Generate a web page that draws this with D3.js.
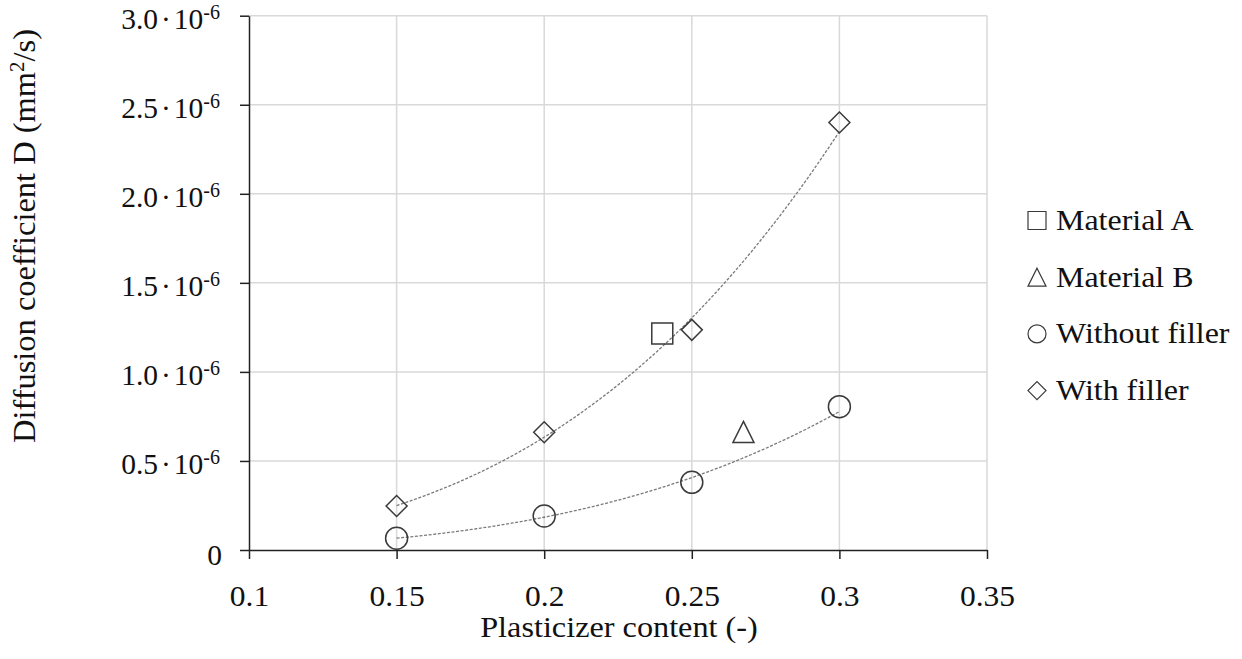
<!DOCTYPE html>
<html>
<head>
<meta charset="utf-8">
<script src="https://cdn.jsdelivr.net/npm/d3@7"></script>
<style>
  html, body { margin: 0; padding: 0; background: #fff; }
  svg { display: block; }
  svg text, svg tspan { font-family: "Liberation Serif" !important; }
</style>
</head>
<body>
<svg id="plot" width="1242" height="659"></svg>
<script>
// ---- data ----
const withFillerX = [0.15, 0.20, 0.25, 0.30];
const withFillerY = [0.247e-6, 0.661e-6, 1.236e-6, 2.40e-6];
const withoutFillerX = [0.15, 0.20, 0.25, 0.30];
const withoutFillerY = [0.066e-6, 0.191e-6, 0.380e-6, 0.805e-6];
const materialAX = [0.240];
const materialAY = [1.215e-6];
const materialBX = [0.2675];
const materialBY = [0.663e-6];
const xTicks = [0.1, 0.15, 0.2, 0.25, 0.3, 0.35];
const xTickLabels = ["0.1", "0.15", "0.2", "0.25", "0.3", "0.35"];
const yTicks = [0, 0.5e-6, 1.0e-6, 1.5e-6, 2.0e-6, 2.5e-6, 3.0e-6];
const yTickMantissa = ["0", "0.5", "1.0", "1.5", "2.0", "2.5", "3.0"];
const legendLabels = ["Material A", "Material B", "Without filler", "With filler"];
const legendShapes = ["square", "triangle", "circle", "diamond"];

// ---- layout ----
const FONT = '"Liberation Serif"';
const svg = d3.select("#plot");
const x = d3.scaleLinear().domain([0.1, 0.35]).range([249, 987]);
const y = d3.scaleLinear().domain([0, 3e-6]).range([550, 15.7]);
const markStroke = "#3a3a3a";
const textColor = "#111";
function styleText(sel, size) {
  return sel.attr("font-family", FONT).style("font-family", FONT, "important")
    .attr("font-size", size).attr("fill", textColor);
}
// widen text horizontally (reference glyphs are slightly wider than Liberation Serif)
function widen(sel, k) {
  sel.each(function() {
    const n = this.getComputedTextLength();
    d3.select(this).attr("textLength", n * k).attr("lengthAdjust", "spacingAndGlyphs");
  });
  return sel;
}

// gridlines
svg.append("g").selectAll("line.h").data(yTicks.filter(d => d > 0)).join("line")
  .attr("x1", x(0.1)).attr("x2", x(0.35))
  .attr("y1", d => y(d)).attr("y2", d => y(d))
  .attr("stroke", "#d9d9d9").attr("stroke-width", 1.5);
svg.append("g").selectAll("line.v").data(xTicks.filter(d => d > 0.1)).join("line")
  .attr("x1", d => x(d)).attr("x2", d => x(d))
  .attr("y1", y(0)).attr("y2", y(3e-6))
  .attr("stroke", "#d9d9d9").attr("stroke-width", 1.5);

// axes
const xAxis = svg.append("g").attr("transform", `translate(0,${y(0)})`)
  .call(d3.axisBottom(x).tickValues(xTicks).tickSize(9).tickSizeOuter(0).tickFormat(""));
const yAxis = svg.append("g").attr("transform", `translate(${x(0.1)},0)`)
  .call(d3.axisLeft(y).tickValues(yTicks).tickSize(9).tickSizeOuter(0).tickFormat(""));
[xAxis, yAxis].forEach(a => {
  a.attr("font-family", FONT);
  a.select(".domain").attr("stroke", "#222").attr("stroke-width", 1.5);
  a.selectAll(".tick line").attr("stroke", "#222").attr("stroke-width", 1.5);
});

// x tick labels
const xl = styleText(xAxis.selectAll(".tick").append("text"), 30)
  .attr("y", 56).attr("text-anchor", "middle")
  .text((d, i) => xTickLabels[i]);
widen(xl, 1.05);

// y tick labels
yAxis.selectAll(".tick").each(function(d, i) {
  const t = styleText(d3.select(this).append("text"), 29.5)
    .attr("x", -29).attr("y", 13).attr("text-anchor", "end");
  if (d === 0) {
    t.attr("x", -27).attr("y", 14).text(yTickMantissa[i]);
  } else {
    t.append("tspan").text(yTickMantissa[i]);
    t.append("tspan").attr("dx", 3).text("\u00B7");
    t.append("tspan").attr("dx", 3).text("10");
    t.append("tspan").attr("dy", -10).attr("font-size", 20).text("-6");
  }
});

// axis titles
const xt = styleText(svg.append("text"), 30).attr("x", 619).attr("y", 637).attr("text-anchor", "middle")
  .text("Plasticizer content (-)");
widen(xt, 1.075);
const yt = styleText(svg.append("text"), 31).attr("transform", "translate(35,236) rotate(-90)")
  .attr("text-anchor", "middle");
yt.append("tspan").text("Diffusion coefficient D (mm");
yt.append("tspan").attr("dy", -11).attr("font-size", 20).text("2");
yt.append("tspan").attr("dy", 11).text("/s)");
yt.attr("textLength", 414).attr("lengthAdjust", "spacingAndGlyphs");

// power-law trendlines (least squares on ln x, ln y)
function powFit(xs, ys) {
  const lx = xs.map(v => Math.log(v)), ly = ys.map(v => Math.log(v));
  const mx = d3.mean(lx), my = d3.mean(ly);
  let sxy = 0, sxx = 0;
  for (let i = 0; i < lx.length; i++) { sxy += (lx[i] - mx) * (ly[i] - my); sxx += (lx[i] - mx) ** 2; }
  const b = sxy / sxx, a = Math.exp(my - b * mx);
  return t => a * Math.pow(t, b);
}
const line = d3.line().x(d => x(d[0])).y(d => y(d[1]));
[[withFillerX, withFillerY], [withoutFillerX, withoutFillerY]].forEach(([xs, ys]) => {
  const f = powFit(xs, ys);
  const lo = d3.min(xs), hi = d3.max(xs);
  const pts = d3.range(0, 101).map(k => { const t = lo + (hi - lo) * k / 100; return [t, f(t)]; });
  svg.append("path").attr("d", line(pts)).attr("fill", "none")
    .attr("stroke", "#7a7a7a").attr("stroke-width", 1.3).attr("stroke-dasharray", "3,1.6");
});

// marker shape generator
function shapePath(kind, cx, cy, s) {
  const h = s / 2;
  if (kind === "square") return `M${cx - h},${cy - h}h${s}v${s}h${-s}Z`;
  if (kind === "diamond") return `M${cx},${cy - h}L${cx + h},${cy}L${cx},${cy + h}L${cx - h},${cy}Z`;
  if (kind === "triangle") return `M${cx},${cy - h}L${cx + h},${cy + h}L${cx - h},${cy + h}Z`;
  return null;
}
function drawMarks(xs, ys, kind, size) {
  const g = svg.append("g");
  const data = xs.map((v, i) => [v, ys[i]]);
  if (kind === "circle") {
    g.selectAll("circle").data(data).join("circle")
      .attr("cx", d => x(d[0])).attr("cy", d => y(d[1])).attr("r", size / 2)
      .attr("fill", "none").attr("stroke", markStroke).attr("stroke-width", 1.5);
  } else {
    g.selectAll("path").data(data).join("path")
      .attr("d", d => shapePath(kind, x(d[0]), y(d[1]), size))
      .attr("fill", "none").attr("stroke", markStroke).attr("stroke-width", 1.5);
  }
}
drawMarks(withoutFillerX, withoutFillerY, "circle", 22);
drawMarks(withFillerX, withFillerY, "diamond", 21);
drawMarks(materialAX, materialAY, "square", 21);
drawMarks(materialBX, materialBY, "triangle", 21);

// legend
const legend = svg.append("g");
legendLabels.forEach((lab, i) => {
  const base = 230 + i * 56.7;
  const cy = base - 9.5, cx = 1037;
  const kind = legendShapes[i];
  if (kind === "circle") {
    legend.append("circle").attr("cx", cx).attr("cy", cy).attr("r", 9)
      .attr("fill", "none").attr("stroke", markStroke).attr("stroke-width", 1.2);
  } else {
    legend.append("path").attr("d", shapePath(kind, cx, cy, 18))
      .attr("fill", "none").attr("stroke", markStroke).attr("stroke-width", 1.2);
  }
  const t = styleText(legend.append("text"), 30).attr("x", 1056).attr("y", base).text(lab);
  widen(t, 1.065);
});
</script>
</body>
</html>
